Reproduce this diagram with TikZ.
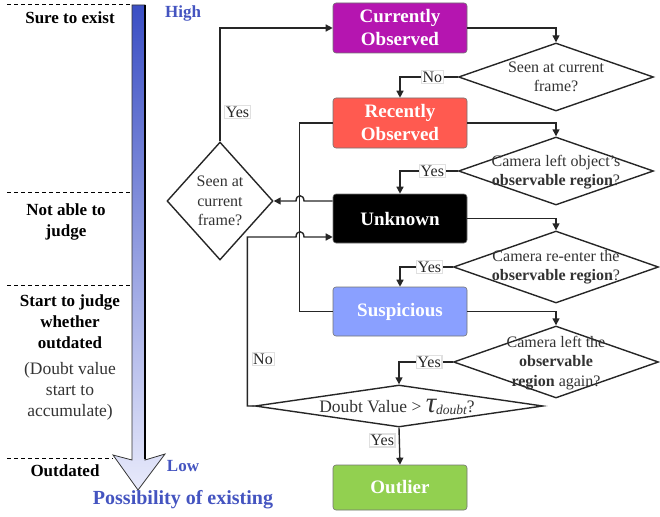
\documentclass[tikz,border=0pt]{standalone}
\usepackage{fontspec}
\setmainfont{Liberation Serif}
\usetikzlibrary{shapes.geometric,arrows.meta,calc}
\definecolor{cocol}{HTML}{B515B0}
\definecolor{rocol}{HTML}{FF5A50}
\definecolor{suscol}{HTML}{8AA0FF}
\definecolor{outcol}{HTML}{92D050}
\definecolor{bluet}{HTML}{4454C0}
\definecolor{bartop}{HTML}{3B4FC4}
\definecolor{barmid}{HTML}{7583D8}
\definecolor{barbot}{HTML}{E8EAFB}
\begin{document}
\begin{tikzpicture}[x=1pt,y=-1pt,
  box/.style={draw=black!55, rounded corners=3pt, minimum width=134pt, minimum height=50pt, inner sep=0pt, align=center, text=white, font=\bfseries\fontsize{19}{23}\selectfont, line width=0.6pt},
  dia/.style={diamond, draw=black!85, line width=1.4pt, inner sep=0pt},
  dtxt/.style={align=center, font=\fontsize{16}{19.5}\selectfont, text=black!80, inner sep=0pt},
  lbl/.style={fill=white, draw=black!12, inner sep=1.2pt, font=\fontsize{16}{18}\selectfont, text=black!85},
  conn/.style={line width=1.4pt, draw=black!85},
  arr/.style={conn, -{Triangle[length=7pt,width=7pt]}},
  side/.style={align=center, font=\bfseries\fontsize{17}{21}\selectfont, inner sep=0pt},
  sidereg/.style={align=center, font=\fontsize{17.5}{21}\selectfont, text=black!80, inner sep=0pt},
  bluelbl/.style={text=bluet, font=\bfseries\fontsize{17}{20}\selectfont, inner sep=0pt},
  dline/.style={line width=1pt, dash pattern=on 4pt off 3pt}
]
\useasboundingbox (0,0) rectangle (660,516);

% gradient arrow
\shadedraw[top color=bartop, middle color=barmid, bottom color=barbot, draw=black!80, line width=0.8pt]
  (132,5) -- (145,5) -- (145,460) -- (165,454) -- (138,490) -- (113,455) -- (132,460) -- cycle;
\draw[line width=2.2pt] (145,5) -- (145,459);

% dashed separators
\draw[dline] (7,5) -- (130,5);
\draw[dline] (7,192) -- (130,192);
\draw[dline] (7,285) -- (130,285);
\draw[dline] (7,458) -- (113,458);

% side texts
\node[side] (s1) at (70,18) {Sure to exist};
\node[side] (s2) at (66,221.5) {Not able to\\judge};
\node[side] (s3) at (70,321.5) {Start to judge\\whether\\outdated};
\node[sidereg] (s4) at (70,391) {(Doubt value\\start to\\accumulate)};
\node[side] (s5) at (65,471) {Outdated};
\node[bluelbl] (high) at (183,13) {High};
\node[bluelbl] (low) at (183,466) {Low};
\node[bluelbl, font=\bfseries\fontsize{20}{24}\selectfont] (poss) at (183,500) {Possibility of existing};

% boxes
\node[box, fill=cocol] (co) at (400,28) {Currently\\Observed};
\node[box, fill=rocol] (ro) at (400,123) {Recently\\Observed};
\node[box, fill=black, minimum height=49pt] (unk) at (400,218.5) {Unknown};
\node[box, fill=suscol, minimum height=49pt] (sus) at (400,311.5) {Suspicious};
\node[box, fill=outcol, minimum height=45pt] (out) at (400,487.5) {Outlier};

% diamonds
\node[dia, minimum width=195pt, minimum height=68pt] (d1) at (556,77) {};
\node[dtxt] (d1t) at (556,77) {Seen at current\\frame?};
\node[dia, minimum width=195pt, minimum height=68pt] (d2) at (556,171) {};
\node[dtxt] (d2t) at (556,172) {Camera left object's\\\textbf{observable region}?};
\node[dia, minimum width=205pt, minimum height=72pt] (d3) at (556,267) {};
\node[dtxt] (d3t) at (556,267) {Camera re-enter the\\\textbf{observable region}?};
\node[dia, minimum width=205pt, minimum height=72pt] (d4) at (556,362) {};
\node[dtxt] (d4t) at (556,363) {Camera left the\\\textbf{observable}\\\textbf{region} again?};
\node[dia, minimum width=288pt, minimum height=42pt] (dv) at (399,406) {};
\node[dtxt, anchor=base, font=\fontsize{17.5}{20}\selectfont] (dvt) at (397,412) {Doubt Value > {\fontsize{29}{29}\selectfont\itshape τ}\raisebox{-2.5pt}{\fontsize{13.5}{14}\selectfont\itshape doubt}?};
\node[dia, minimum width=106pt, minimum height=118pt] (ld) at (220,201) {};
\node[dtxt] (ldt) at (220,201) {Seen at\\current\\frame?};

% right-side flow
\draw[arr] (co.east) -| (d1.north);
\draw[arr] (d1.west) -| (ro.north) node[lbl, pos=0.22] {No};
\draw[arr] (ro.east) -| (d2.north);
\draw[arr] (d2.west) -| (unk.north) node[lbl, pos=0.22] {Yes};
\draw[arr] (unk.east) -| (d3.north);
\draw[arr] (d3.west) -| (sus.north) node[lbl, pos=0.22] {Yes};
\draw[arr] (sus.east) -| (d4.north);
\draw[arr] (d4.west) -| (dv.north) node[lbl, pos=0.22] {Yes};
\draw[arr] (dv.south) -- (out.north) node[lbl, pos=0.35, xshift=-17pt] {Yes};

% left-side flow
\draw[arr] (ld.north) |- (co.west) node[lbl, pos=0.13, anchor=west, xshift=4pt] {Yes};
\draw[conn] (ro.west) -- ++(-33,0) |- (sus.west);
\draw[arr] (unk.west |- ld.east) -- (304,201) .. controls (304,194) and (296,194) .. (296,201) -- (ld.east);
\draw[arr] (dv.west) -- ++(-7,0) |- (296,237) .. controls (296,230) and (304,230) .. (304,237) -- (unk.west |- 0,237);
\node[lbl] (nolab) at (263,359) {No};
\end{tikzpicture}
\end{document}
